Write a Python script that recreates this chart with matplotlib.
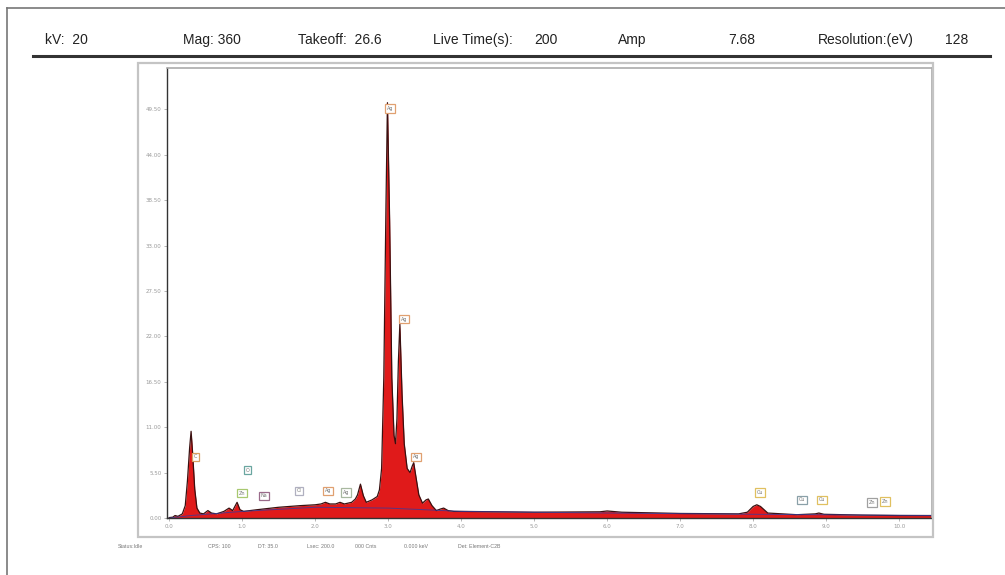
import numpy as np
import matplotlib.pyplot as plt
from matplotlib.patches import Rectangle
from matplotlib.lines import Line2D

# spectrum (energy in keV, counts in K)
energy = [0.00, 0.05, 0.08, 0.12, 0.18, 0.22, 0.25, 0.28, 0.30, 0.32, 0.35, 0.38,
          0.42, 0.47, 0.53, 0.58, 0.65, 0.75, 0.82, 0.87, 0.93, 0.97, 1.02, 1.20,
          1.50, 1.80, 2.00, 2.08, 2.14, 2.20, 2.28, 2.34, 2.40, 2.50, 2.55, 2.58,
          2.62, 2.66, 2.70, 2.78, 2.85, 2.88, 2.91, 2.94, 2.97, 2.99, 3.02, 3.05,
          3.08, 3.10, 3.12, 3.14, 3.16, 3.19, 3.22, 3.26, 3.30, 3.33, 3.35, 3.38,
          3.42, 3.47, 3.52, 3.55, 3.60, 3.66, 3.72, 3.76, 3.82, 3.90, 4.00, 5.00,
          5.90, 6.00, 6.20, 7.00, 7.80, 7.92, 8.00, 8.05, 8.10, 8.20, 8.60, 8.85,
          8.90, 8.97, 9.50, 10.00, 10.45]
counts = [0.05, 0.10, 0.30, 0.20, 0.50, 1.50, 4.50, 8.50, 10.5, 8.00, 3.50, 1.20,
          0.60, 0.50, 0.90, 0.60, 0.50, 0.80, 1.20, 0.90, 1.90, 1.00, 0.80, 1.00,
          1.30, 1.50, 1.60, 1.70, 1.90, 1.70, 1.70, 1.90, 1.70, 1.90, 2.30, 2.80,
          4.10, 2.70, 1.90, 2.20, 2.60, 3.40, 6.00, 17.0, 38.0, 50.3, 36.0, 17.0,
          10.0, 9.00, 12.0, 19.0, 23.5, 15.0, 9.00, 6.00, 5.50, 6.30, 6.70, 5.00,
          2.80, 1.80, 2.20, 2.30, 1.50, 0.90, 1.10, 1.20, 0.90, 0.80, 0.80, 0.70,
          0.75, 0.85, 0.70, 0.55, 0.50, 0.70, 1.40, 1.60, 1.40, 0.60, 0.40, 0.50,
          0.60, 0.45, 0.35, 0.30, 0.30]

bg_energy = [0.0, 0.3, 1.0, 2.0, 3.0, 4.0, 6.0, 8.0, 10.45]
bg_counts = [0.0, 0.3, 0.8, 1.3, 1.2, 0.8, 0.6, 0.45, 0.3]

# peak markers: (energy, label y in K, text, edge colour)
markers = [(0.36, 7.4, "C", "#d9a060"),
           (1.07, 5.8, "O", "#6aa6a0"),
           (1.00, 3.0, "Zn", "#a8c870"),
           (1.30, 2.7, "Na", "#9a6a8a"),
           (1.78, 3.3, "Cl", "#b0b0c0"),
           (2.18, 3.3, "Ag", "#e0a070"),
           (2.42, 3.1, "Ag", "#a8b8a0"),
           (3.03, 49.6, "Ag", "#e0a070"),
           (3.22, 24.1, "Ag", "#e0a070"),
           (3.38, 7.4, "Ag", "#e0a070"),
           (8.09, 3.1, "Cu", "#e0c060"),
           (8.67, 2.2, "Cu", "#8aa0a8"),
           (8.94, 2.2, "Cu", "#e0c060"),
           (9.63, 1.9, "Zn", "#a0a0a0"),
           (9.80, 2.0, "Zn", "#e0c060")]

header = [(45, "kV:  20"), (183, "Mag: 360"), (298, "Takeoff:  26.6"),
          (433, "Live Time(s):"), (534, "200"), (618, "Amp"), (728, "7.68"),
          (818, "Resolution:(eV)"), (945, "128")]
status = [(118, "Status:Idle"), (208, "CPS: 100"), (258, "DT: 35.0"),
          (307, "Lsec: 200.0"), (355, "000 Cnts"), (404, "0.000 keV"),
          (458, "Det: Element-C2B")]

yticks = [0.0, 5.5, 11.0, 16.5, 22.0, 27.5, 33.0, 38.5, 44.0, 49.5]
xticks = [0, 1, 2, 3, 4, 5, 6, 7, 8, 9, 10]

W, H = 1005, 575
fig = plt.figure(figsize=(W / 100, H / 100), dpi=100)
fig.patch.set_facecolor("white")
font = ["Liberation Sans Narrow", "Liberation Sans", "DejaVu Sans"]

def fx(px):
    return px / W

def fy(py):
    return 1 - py / H

# outer frame and header
fig.add_artist(Line2D([fx(7), 1], [fy(8), fy(8)], color="#777777", lw=1.2))
fig.add_artist(Line2D([fx(7), fx(7)], [fy(8), 0], color="#777777", lw=1.2))
for x, t in header:
    fig.text(fx(x), fy(40), t, fontsize=10, family=font, color="#222222",
             va="center", ha="left")
fig.add_artist(Line2D([fx(33), fx(990)], [fy(56), fy(56)], color="#333333", lw=2.2))

# panel frame
fig.add_artist(Rectangle((fx(138), fy(537)), fx(933) - fx(138), fy(63) - fy(537),
                         fill=False, edgecolor="#c4c4c4", lw=1.6))

ax = fig.add_axes([fx(167), fy(518), fx(932) - fx(167), fy(68) - fy(518)])
ax.fill_between(energy, counts, 0, color="#e01a1a", lw=0)
ax.plot(energy, counts, color="#3a1010", lw=0.9)
ax.plot(bg_energy, bg_counts, color="#3a3a9a", lw=0.7, alpha=0.8)

for e, y, t, c in markers:
    ax.text(e, y, t, fontsize=3.5, color="#777777", ha="center", va="center",
            bbox=dict(boxstyle="square,pad=0.35", fc="white", ec=c, lw=0.9))

ax.set_xlim(-0.03, 10.45)
ax.set_ylim(0, 54.5)
ax.set_xticks(xticks)
ax.set_xticklabels([f"{v:.1f}" for v in xticks])
ax.set_yticks(yticks)
ax.set_yticklabels([f"{v:.2f}" for v in yticks])
ax.tick_params(labelsize=4, colors="#999999", length=2, width=0.5, pad=2)
for s in ["left", "bottom"]:
    ax.spines[s].set_color("#333333")
    ax.spines[s].set_linewidth(1.0)
for s in ["top", "right"]:
    ax.spines[s].set_color("#aaaaaa")
    ax.spines[s].set_linewidth(1.2)

for x, t in status:
    fig.text(fx(x), fy(547), t, fontsize=3.8, family=font, color="#777777",
             va="center", ha="left")

fig.savefig("out.png", dpi=100)
